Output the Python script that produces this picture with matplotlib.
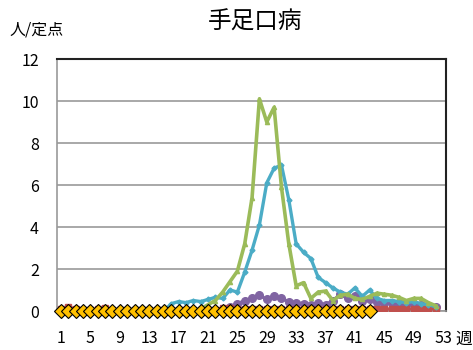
import matplotlib
matplotlib.use("Agg")
import matplotlib.pyplot as plt

plt.rcParams["font.family"] = ["Noto Sans CJK JP", "DejaVu Sans"]

weeks = list(range(1, 53))

# red series (near zero all year)
red = [0.1, 0.2, 0.1, 0.05, 0.05, 0.1, 0.15, 0.05, 0.05, 0.05,
       0.05, 0.05, 0.05, 0.05, 0.05, 0.05, 0.05, 0.05, 0.05, 0.05,
       0.05, 0.05, 0.15, 0.15, 0.1, 0.1, 0.1, 0.1, 0.1, 0.1,
       0.1, 0.1, 0.1, 0.1, 0.1, 0.1, 0.1, 0.1, 0.1, 0.1,
       0.1, 0.1, 0.1, 0.1, 0.1, 0.1, 0.1, 0.1, 0.1, 0.1,
       0.1, 0.1]

purple = [0] * 21 + [0.05, 0.1, 0.2, 0.35, 0.5, 0.6, 0.75, 0.55, 0.7,
                     0.6, 0.45, 0.4, 0.35, 0.3, 0.4, 0.3, 0.5, 0.8, 0.6,
                     0.7, 0.5, 0.55, 0.45, 0.4, 0.4, 0.4, 0.35, 0.3, 0.3,
                     0.25, 0.2]

cyan = [0] * 15 + [0.35, 0.45, 0.4, 0.5, 0.45, 0.55, 0.65, 0.6, 1.0, 0.9,
                   1.85, 2.9, 4.1, 6.1, 6.8, 6.95, 5.3, 3.2, 2.8, 2.5,
                   1.6, 1.35, 1.1, 0.9, 0.8, 1.1, 0.7, 1.0, 0.6, 0.5,
                   0.5, 0.45, 0.4, 0.45, 0.35, 0.3, 0.2]

green = [0] * 19 + [0.1, 0.3, 0.5, 0.9, 1.4, 1.9, 3.2, 5.4, 10.1, 9.0, 9.7,
                    5.9, 3.2, 1.2, 1.35, 0.6, 0.9, 0.95, 0.5, 0.75, 0.8,
                    0.6, 0.55, 0.7, 0.85, 0.8, 0.75, 0.65, 0.5, 0.6, 0.6,
                    0.4, 0.25]

yellow_weeks = list(range(1, 44))
yellow = [0] * 43

xticks = list(range(1, 54, 4))
yticks = list(range(0, 13, 2))

fig = plt.figure(figsize=(4.73, 3.5), dpi=100)
ax = fig.add_axes([0.1205, 0.1114, 0.8225, 0.72])

ax.plot(weeks, purple, color="#8064A2", lw=2.2, marker="o", ms=5.5, zorder=3)
ax.plot(weeks, red, color="#C0504D", lw=2.2, marker="s", ms=5, zorder=4)
ax.plot(weeks, cyan, color="#4BACC6", lw=2.4, marker="D", ms=2.5, zorder=5)
ax.plot(weeks, green, color="#9BBB59", lw=2.6, marker="^", ms=3, zorder=6)
ax.plot(yellow_weeks, yellow, color="#FFC000", lw=1.5, marker="D", ms=7.5,
        mec="black", mew=0.8, zorder=7, clip_on=False)

ax.set_xlim(0.45, 53.4)
ax.set_ylim(0, 12)
ax.set_xticks(xticks)
ax.set_yticks(yticks)
ax.tick_params(length=0, labelsize=11.5)
ax.tick_params(axis="x", pad=14)
ax.tick_params(axis="y", pad=13)
ax.grid(axis="y", color="#999999", lw=1.2)
ax.set_axisbelow(True)

for s in ["left", "bottom"]:
    ax.spines[s].set_color("#999999")
    ax.spines[s].set_linewidth(1.2)
for s in ["top", "right"]:
    ax.spines[s].set_color("#222222")
    ax.spines[s].set_linewidth(1.5)

fig.text(0.54, 0.937, "手足口病", ha="center", va="center", fontsize=17)
fig.text(0.02, 0.914, "人/定点", ha="left", va="center", fontsize=11.5)
fig.text(0.962, 0.03, "週", ha="left", va="center", fontsize=12)

fig.savefig("out.png", dpi=100)
